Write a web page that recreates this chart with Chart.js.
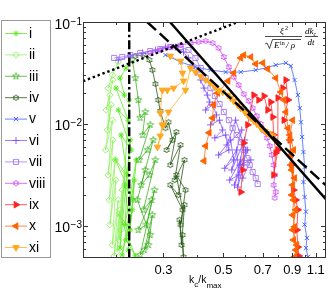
<!DOCTYPE html>
<html>
<head>
<meta charset="utf-8">
<script src="https://cdn.jsdelivr.net/npm/chart.js"></script>
<style>
html, body { margin: 0; padding: 0; background: #fff; }
canvas { display: block; }
</style>
</head>
<body>
<canvas id="grafico" width="332" height="302"></canvas>
<script>
// Series names (legend)
var nombres = ['i', 'ii', 'iii', 'iv', 'v', 'vi', 'vii', 'viii', 'ix', 'x', 'xi'];

// k_c/k_max (K) and normalised dk_c/dt (Y)
var kI = [.218, .207, .215, .200, .222, .204, .228, .209, .220, .199, .232, .215, .226, .206, .236, .218, .230, .211, .234, .222, .238, .216, .226, .207, .224];
var yI = [.0354, .0282, .0192, .0225, .0109, .0137, .00556, .0078, .00316, .00444, .0018, .00252, .000914, .00128, .000508, .000729, .00144, .00052, .00282, .000582, .00444, .00103, .00697, .000608, .0172];

var kII = [.204, .194, .187, .195, .184, .190, .186, .192, .183, .194, .187, .195, .189, .199, .190, .200, .194, .204, .197, .207, .202, .211, .206, .215, .209];
var yII = [.0405, .0302, .0225, .027, .0137, .0192, .00873, .0154, .00556, .0109, .00316, .00697, .0018, .00444, .00103, .00282, .000651, .0018, .000508, .00144, .000556, .00225, .000729, .00354, .000914];

var kIII = [.230, .236, .242, .246, .257, .251, .268, .244, .262, .275, .248, .266, .280, .253, .271, .242, .259, .278, .246, .264, .273, .255, .268, .240, .257];
var yIII = [.0424, .0282, .0172, .0115, .0131, .0078, .0098, .00444, .00556, .00697, .00252, .00316, .00444, .00144, .0018, .000914, .00103, .00225, .00052, .000651, .00128, .000582, .000816, .0018, .00354];

var kIV = [.236, .253, .266, .273, .280, .287, .292, .305, .313, .324, .308, .335, .318, .347, .330, .359, .341, .318, .353, .335, .362, .347, .359, .350, .344, .356, .353];
var yIV = [.0464, .0475, .0424, .0338, .0247, .0172, .0134, .0091, .0104, .00697, .00556, .00835, .00396, .00622, .00282, .00444, .00201, .00252, .00144, .00316, .00225, .00103, .00161, .000651, .00115, .000497, .000816];

var kV = [.305, .347, .394, .448, .510, .580, .659, .718, .782, .852, .889, .918, .944, .960, .969, .979, .990, 1.00, .990, 1.00, 1.011, 1.00, 1.02, 1.011, 1.03];
var yV = [.0475, .0405, .0362, .0338, .0323, .0323, .0338, .0354, .0379, .0397, .0370, .027, .0192, .0143, .0104, .00746, .00531, .00379, .0027, .00192, .00138, .00103, .000763, .000608, .000497];

var kVI = [.204, .226, .251, .280, .305, .332, .356, .371, .385, .398, .412, .424, .436, .445, .430, .456, .472, .448, .484, .497, .465, .510, .524, .480, .532, .546, .506, .560, .570, .528, .580, .565, .595, .605, .555, .515, .585, .537, .600, .550, .615, .575, .632, .590];
var yVI = [.0424, .0464, .0497, .0531, .0568, .0568, .0508, .0444, .0379, .0323, .027, .0225, .0192, .0164, .0137, .0154, .01225, .0098, .0109, .00873, .0073, .0078, .00556, .00497, .00697, .00444, .00368, .00556, .00316, .00282, .00444, .0024, .00396, .00556, .0109, .00622, .00873, .00354, .00697, .00252, .00556, .00396, .00444, .00295];

var kVII = [.197, .211, .226, .246, .268, .292, .318, .347, .371, .394, .412, .430, .448, .465, .484, .502, .524, .541, .560, .580, .595, .610, .626, .642, .659, .670];
var yVII = [.0444, .0454, .0475, .0497, .0519, .0543, .0568, .0568, .0531, .0444, .0354, .0282, .0225, .0188, .0157, .0131, .0109, .0091, .0078, .00665, .00556, .00464, .00396, .00338, .00295, .00258];

var kVIII = [.268, .292, .318, .347, .378, .405, .430, .456, .480, .502, .524, .546, .570, .595, .621, .642, .665, .688, .707, .725, .743, .756, .768, .775, .768, .782, .775];
var yVIII = [.0497, .0531, .0568, .0595, .0622, .0636, .065, .0622, .0555, .0454, .0362, .0288, .0241, .0196, .0168, .0143, .0120, .0100, .0085, .0073, .00608, .00497, .00396, .00316, .00252, .00215, .00189];

var kIX = [.580, .590, .595, .615, .648, .676, .707, .730, .749, .762, .768, .782, .768, .796, .796, .830, .852, .868, .838, .882, .896, .910, .928, .944, .936, .944, .952];
var yIX = [.00215, .00354, .0065, .0098, .0192, .0172, .0188, .0137, .0164, .0117, .0078, .0052, .00316, .00556, .0180, .0225, .027, .0172, .0109, .00697, .00396, .00225, .0018, .00144, .000914, .00062, .000508];

var kX = [.424, .430, .443, .456, .460, .476, .520, .546, .580, .595, .632, .659, .700, .730, .782, .816, .838, .852, .868, .882, .889, .896, .903, .910, .903, .918, .910, .928, .918, .936, .903, .928, .896, .918, .889, .910, .882, .903];
var yX = [.00434, .00608, .0082, .01145, .0154, .0201, .0264, .0316, .0444, .0475, .0454, .0388, .0397, .0346, .0282, .0206, .0172, .0131, .0091, .00697, .00497, .00354, .00252, .0018, .00128, .00098, .000729, .000582, .000497, .000651, .000914, .00144, .00201, .00295, .00396, .00556, .0078, .0109];

var kXI = [.318, .347, .353, .356, .327, .310, .297, .292, .297, .292, .285, .300, .313, .362, .378, .394, .412, .430, .448, .465, .480, .497, .520, .532, .546, .565, .580, .600, .615, .632, .648, .665, .688, .712, .730, .749, .762];
var yXI = [.0464, .0414, .0316, .0264, .0225, .0215, .0215, .0128, .0098, .00763, .00594, .0098, .0131, .0215, .0354, .0323, .0295, .027, .0253, .023, .0215, .0206, .0192, .018, .0168, .0154, .0143, .0131, .01225, .01145, .0107, .0100, .0091, .0085, .0081, .0078, .0075];

// Reference lines
var puntosK = [0.151, 0.567], puntosY = [0.0263, 0.1];          // dotted, slope 1
var verticalK = [0.224, 0.224], verticalY = [0.000485, 0.1];      // dash-dot
var continuaK = [0.317, 1.2], continuaY = [0.1, 0.00182];         // solid, slope -3
var guionesK = [0.261, 1.2], guionesY = [0.1, 0.0025];            // dashed

// Axis ticks
var xTicks = [0.3, 0.5, 0.7, 0.9, 1.1];
var xTickLabels = ['0.3', '0.5', '0.7', '0.9', '1.1'];
var yTicks = [0.001, 0.01, 0.1];
var yTickExp = ['\u22123', '\u22122', '\u22121'];


// Hollow star markers (pentagram / hexagram)
function estrella(color, puntas, r, interior) {
    var c = document.createElement('canvas');
    c.width = c.height = Math.ceil(2 * r + 2);
    var ctx = c.getContext('2d');
    var m = c.width / 2;
    ctx.strokeStyle = color;
    ctx.lineWidth = 0.75;
    ctx.beginPath();
    for (var j = 0; j < 2 * puntas; j++) {
        var a = -Math.PI / 2 + j * Math.PI / puntas;
        var rr = j % 2 ? r * interior : r;
        if (j === 0) ctx.moveTo(m + rr * Math.cos(a), m + rr * Math.sin(a));
        else ctx.lineTo(m + rr * Math.cos(a), m + rr * Math.sin(a));
    }
    ctx.closePath();
    ctx.stroke();
    return c;
}

function alfa(hex, a) {
    var n = parseInt(hex.slice(1), 16);
    return 'rgba(' + (n >> 16) + ',' + ((n >> 8) & 255) + ',' + (n & 255) + ',' + a + ')';
}

var estilos = [
    {k: kI, y: yI, color: '#55e81a', punto: 'star', radio: 3, relleno: false},
    {k: kII, y: yII, color: '#8ff25c', punto: 'rectRot', radio: 3.2, relleno: false},
    {k: kIII, y: yIII, color: '#34ad14', punto: estrella('#34ad14', 5, 3.6, 0.42), radio: 3, relleno: false},
    {k: kIV, y: yIV, color: '#1d5208', punto: estrella('#1d5208', 6, 3, 0.6), radio: 3, relleno: false},
    {k: kV, y: yV, color: '#3658ff', punto: 'crossRot', radio: 3, relleno: false},
    {k: kVI, y: yVI, color: '#7f4dfb', punto: 'cross', radio: 3.5, relleno: false},
    {k: kVII, y: yVII, color: '#a275f0', punto: 'rect', radio: 3.6, relleno: false},
    {k: kVIII, y: yVIII, color: '#c83cf5', punto: estrella('#c83cf5', 6, 3, 0.6), radio: 3, relleno: false},
    {k: kIX, y: yIX, color: '#ff2020', punto: 'triangle', giro: 90, radio: 3.8, relleno: true},
    {k: kX, y: yX, color: '#ff6200', punto: 'triangle', giro: -90, radio: 3.8, relleno: true},
    {k: kXI, y: yXI, color: '#ffa820', punto: 'triangle', giro: 180, radio: 3.8, relleno: true}
];

var datasets = [];
for (let i = 0; i < estilos.length; i++) {
    var e = estilos[i];
    datasets.push({
        label: nombres[i],
        data: e.k.map(function(k, j) { return {x: k, y: e.y[j]}; }),
        showLine: true,
        borderColor: alfa(e.color, 0.75),
        borderWidth: 1,
        pointStyle: e.punto,
        pointRotation: e.giro || 0,
        pointRadius: e.radio,
        pointBorderWidth: 0.9,
        pointBorderColor: e.color,
        pointBackgroundColor: e.relleno ? e.color : 'rgba(0,0,0,0)',
        order: 100 - i
    });
}

function linea(k, y, dash) {
    return {
        data: k.map(function(v, j) { return {x: v, y: y[j]}; }),
        showLine: true,
        borderColor: '#000',
        borderWidth: 2.4,
        borderDash: dash,
        pointRadius: 0,
        order: 0
    };
}
datasets.push(linea(puntosK, puntosY, [2.4, 2.8]));
datasets.push(linea(verticalK, verticalY, [9, 3, 2.4, 3]));
datasets.push(linea(continuaK, continuaY, []));
datasets.push(linea(guionesK, guionesY, [12, 5]));


// Frame, inside ticks and labels in MATLAB style
function dibujarEjes(chart) {
    var ctx = chart.ctx, a = chart.chartArea, sx = chart.scales.x, sy = chart.scales.y;
    ctx.save();
    ctx.strokeStyle = '#333';
    ctx.lineWidth = 1;
    ctx.beginPath();
    for (var d = -4; d <= -1; d++) {
        for (var m = 1; m <= 9; m++) {
            var v = m * Math.pow(10, d);
            if (v < sy.min || v > sy.max) continue;
            var py = Math.round(sy.getPixelForValue(v)) + 0.5;
            var len = m === 1 ? 5 : 3;
            ctx.moveTo(a.left, py); ctx.lineTo(a.left + len, py);
            ctx.moveTo(a.right, py); ctx.lineTo(a.right - len, py);
        }
    }
    var menores = [0.2, 0.4, 0.6, 0.8, 1.0];
    for (var j = 0; j < menores.length; j++) {
        var px = Math.round(sx.getPixelForValue(menores[j])) + 0.5;
        ctx.moveTo(px, a.bottom); ctx.lineTo(px, a.bottom - 3);
        ctx.moveTo(px, a.top); ctx.lineTo(px, a.top + 3);
    }
    for (var j = 0; j < xTicks.length; j++) {
        var px = Math.round(sx.getPixelForValue(xTicks[j])) + 0.5;
        ctx.moveTo(px, a.bottom); ctx.lineTo(px, a.bottom - 5);
        ctx.moveTo(px, a.top); ctx.lineTo(px, a.top + 5);
    }
    ctx.stroke();
    ctx.strokeRect(Math.round(a.left) + 0.5, Math.round(a.top) + 0.5, Math.round(a.right - a.left) - 1, Math.round(a.bottom - a.top) - 1);

    ctx.fillStyle = '#000';
    ctx.textBaseline = 'alphabetic';
    // y labels 10^n
    for (var j = 0; j < yTicks.length; j++) {
        var py = sy.getPixelForValue(yTicks[j]);
        ctx.textAlign = 'right';
        ctx.font = '10px "Liberation Sans"';
        var w = ctx.measureText(yTickExp[j]).width;
        ctx.fillText(yTickExp[j], 82, py + 2.5);
        ctx.font = '14px "Liberation Sans"';
        ctx.fillText('10', 82 - w - 0.5, py + 6.5);
    }
    // x labels
    ctx.textAlign = 'center';
    ctx.font = '13px "Liberation Sans"';
    for (var j = 0; j < xTicks.length; j++) {
        ctx.fillText(xTickLabels[j], sx.getPixelForValue(xTicks[j]), a.bottom + 16);
    }
    // x axis title k_c/k_max
    ctx.textAlign = 'left';
    var x = 189;
    var partes = [['k', 10.5, 0], ['c', 8, 4], ['/k', 10.5, 0], ['max', 8, 4.5]];
    for (var j = 0; j < partes.length; j++) {
        ctx.font = partes[j][1] + 'px "Liberation Sans"';
        ctx.fillText(partes[j][0], x, a.bottom + 25 + partes[j][2]);
        x += ctx.measureText(partes[j][0]).width;
    }
    ctx.restore();
}

// Formula in the upper right corner
function dibujarFormula(chart) {
    var ctx = chart.ctx;
    ctx.save();
    ctx.fillStyle = '#000';
    ctx.strokeStyle = '#000';
    ctx.textAlign = 'left';
    ctx.textBaseline = 'alphabetic';
    ctx.font = 'italic 9px "Liberation Serif"';
    ctx.fillText('\u03be', 280, 34);
    ctx.font = '6px "Liberation Serif"';
    ctx.fillText('2', 285, 30);
    ctx.lineWidth = 0.7;
    ctx.beginPath();
    ctx.moveTo(265, 36.5); ctx.lineTo(302, 36.5);
    ctx.moveTo(265, 44); ctx.lineTo(267, 43); ctx.lineTo(269.5, 48.5); ctx.lineTo(272.5, 39.5); ctx.lineTo(301, 39.5);
    ctx.moveTo(305, 36.5); ctx.lineTo(318, 36.5);
    ctx.stroke();
    ctx.font = 'italic 9px "Liberation Serif"';
    ctx.fillText('E', 274, 48);
    ctx.font = '6px "Liberation Serif"';
    ctx.fillText('in', 280, 44.5);
    ctx.font = 'italic 9px "Liberation Serif"';
    ctx.fillText('/ \u03c1', 286, 48);
    ctx.fillText('dk', 305, 34);
    ctx.font = 'italic 6px "Liberation Serif"';
    ctx.fillText('c', 313.5, 35.5);
    ctx.font = 'italic 9px "Liberation Serif"';
    ctx.fillText('dt', 307.5, 45);
    ctx.restore();
}

// Legend box on the left
function dibujarLeyenda(chart) {
    var ctx = chart.ctx;
    ctx.save();
    ctx.strokeStyle = '#999';
    ctx.lineWidth = 1;
    ctx.strokeRect(1.5, 20.5, 49, 237);
    for (var j = 0; j < nombres.length; j++) {
        var ds = chart.data.datasets[j];
        var y = 33.5 + j * 21.4;
        ctx.strokeStyle = ds.borderColor;
        ctx.lineWidth = 1;
        ctx.beginPath(); ctx.moveTo(5, y); ctx.lineTo(27, y); ctx.stroke();
        ctx.strokeStyle = ds.pointBorderColor;
        ctx.fillStyle = ds.pointBackgroundColor;
        ctx.lineWidth = ds.pointBorderWidth;
        Chart.helpers.drawPoint(ctx, {pointStyle: ds.pointStyle, rotation: ds.pointRotation, radius: ds.pointRadius, borderWidth: ds.pointBorderWidth}, 16, y);
        ctx.fillStyle = '#000';
        ctx.font = '14px "Liberation Sans"';
        ctx.textAlign = 'left';
        ctx.textBaseline = 'middle';
        ctx.fillText(nombres[j], 29, y + 0.5);
    }
    ctx.restore();
}

var marco = {
    id: 'marco',
    beforeDraw: function(chart) {
        chart.ctx.save();
        chart.ctx.fillStyle = '#fff';
        chart.ctx.fillRect(0, 0, chart.width, chart.height);
        chart.ctx.restore();
    },
    afterDraw: function(chart) {
        dibujarEjes(chart);
        dibujarFormula(chart);
        dibujarLeyenda(chart);
    }
};

var chart = new Chart(document.getElementById('grafico'), {
    type: 'scatter',
    data: {datasets: datasets},
    options: {
        responsive: false,
        animation: false,
        layout: {padding: {left: 83, right: 6, top: 22, bottom: 44}},
        plugins: {legend: {display: false}, tooltip: {enabled: false}},
        scales: {
            x: {type: 'logarithmic', min: 0.151, max: 1.2, display: false},
            y: {type: 'logarithmic', min: 0.000485, max: 0.1, display: false}
        }
    },
    plugins: [marco]
});
</script>
</body>
</html>
